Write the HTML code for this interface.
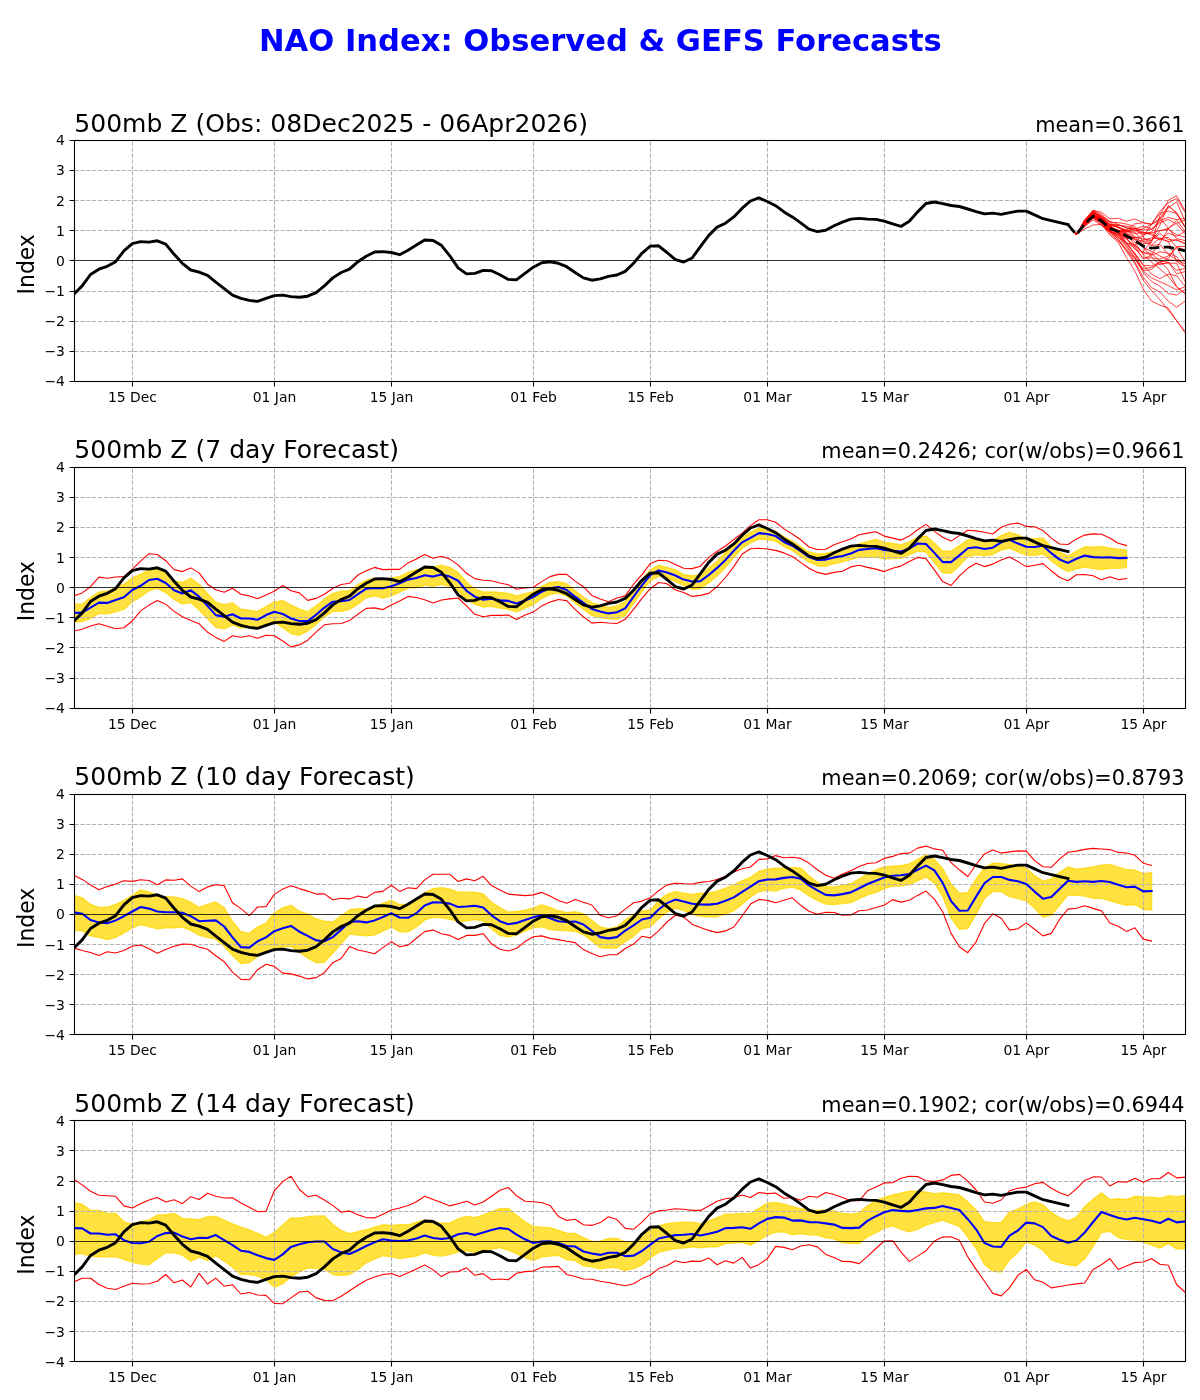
<!DOCTYPE html>
<html lang="en"><head><meta charset="utf-8"><title>NAO Index: Observed &amp; GEFS Forecasts</title>
<style>
html,body{margin:0;padding:0;background:#fff}
svg{display:block;font-family:"DejaVu Sans", "Liberation Sans", sans-serif;fill:#000}
</style></head><body>
<svg width="1200" height="1400" viewBox="0 0 1200 1400">
<rect width="1200" height="1400" fill="#fff"/>
<text x="600.4" y="50.8" font-size="30.6" font-weight="bold" text-anchor="middle" fill="#0000ff">NAO Index: Observed &amp; GEFS Forecasts</text>
<clipPath id="c0"><rect x="74.5" y="140.5" width="1111.0" height="241.0"/></clipPath>
<g clip-path="url(#c0)"><path d="M132.5 381.5V140.5M274.5 381.5V140.5M391.5 381.5V140.5M533.5 381.5V140.5M650.5 381.5V140.5M767.5 381.5V140.5M884.5 381.5V140.5M1026.5 381.5V140.5M1143.5 381.5V140.5M74.5 351.5H1185.5M74.5 321.5H1185.5M74.5 291.5H1185.5M74.5 230.5H1185.5M74.5 200.5H1185.5M74.5 170.5H1185.5" stroke="#b0b0b0" stroke-width="1.1" stroke-dasharray="4.111 1.778" fill="none"/>
<path d="M1068.0 224.6 L1076.4 234.6 L1084.7 226.5 L1093.1 220.0 L1101.5 225.4 L1109.8 232.1 L1118.2 233.1 L1126.5 236.2 L1134.9 238.5 L1143.2 247.0 L1151.6 257.2 L1159.9 264.8 L1168.3 262.2 L1176.6 273.8 L1185.0 271.6M1068.0 224.6 L1076.4 234.6 L1084.7 224.8 L1093.1 217.4 L1101.5 222.8 L1109.8 231.6 L1118.2 234.5 L1126.5 242.8 L1134.9 248.2 L1143.2 258.2 L1151.6 257.8 L1159.9 259.2 L1168.3 256.0 L1176.6 247.6 L1185.0 261.3M1068.0 224.6 L1076.4 234.6 L1084.7 221.2 L1093.1 212.9 L1101.5 217.0 L1109.8 224.8 L1118.2 224.6 L1126.5 228.3 L1134.9 228.8 L1143.2 233.7 L1151.6 233.5 L1159.9 238.6 L1168.3 237.4 L1176.6 247.4 L1185.0 249.6M1068.0 224.6 L1076.4 234.6 L1084.7 223.4 L1093.1 214.5 L1101.5 218.4 L1109.8 224.8 L1118.2 225.5 L1126.5 226.2 L1134.9 228.3 L1143.2 232.4 L1151.6 232.8 L1159.9 230.6 L1168.3 229.5 L1176.6 234.7 L1185.0 237.4M1068.0 224.6 L1076.4 234.6 L1084.7 223.4 L1093.1 213.9 L1101.5 218.8 L1109.8 225.3 L1118.2 227.1 L1126.5 231.5 L1134.9 228.4 L1143.2 229.9 L1151.6 229.3 L1159.9 220.9 L1168.3 217.4 L1176.6 219.6 L1185.0 218.3M1068.0 224.6 L1076.4 234.6 L1084.7 224.7 L1093.1 217.1 L1101.5 222.0 L1109.8 229.3 L1118.2 230.4 L1126.5 230.2 L1134.9 228.9 L1143.2 226.2 L1151.6 228.9 L1159.9 222.8 L1168.3 219.5 L1176.6 223.9 L1185.0 233.8M1068.0 224.6 L1076.4 234.6 L1084.7 223.1 L1093.1 215.0 L1101.5 219.7 L1109.8 226.5 L1118.2 230.6 L1126.5 232.5 L1134.9 237.7 L1143.2 236.5 L1151.6 224.2 L1159.9 211.3 L1168.3 202.8 L1176.6 198.5 L1185.0 212.2M1068.0 224.6 L1076.4 234.6 L1084.7 224.3 L1093.1 216.6 L1101.5 220.6 L1109.8 227.5 L1118.2 230.6 L1126.5 238.3 L1134.9 246.9 L1143.2 259.0 L1151.6 255.2 L1159.9 251.8 L1168.3 253.2 L1176.6 256.7 L1185.0 267.0M1068.0 224.6 L1076.4 234.6 L1084.7 221.9 L1093.1 211.7 L1101.5 216.8 L1109.8 224.9 L1118.2 232.7 L1126.5 238.2 L1134.9 249.5 L1143.2 252.0 L1151.6 240.4 L1159.9 225.1 L1168.3 205.4 L1176.6 213.6 L1185.0 226.4M1068.0 224.6 L1076.4 234.6 L1084.7 225.2 L1093.1 216.9 L1101.5 222.3 L1109.8 231.2 L1118.2 239.0 L1126.5 249.4 L1134.9 259.4 L1143.2 270.5 L1151.6 269.6 L1159.9 260.7 L1168.3 270.1 L1176.6 286.5 L1185.0 293.7M1068.0 224.6 L1076.4 234.6 L1084.7 220.0 L1093.1 211.8 L1101.5 218.3 L1109.8 227.2 L1118.2 233.1 L1126.5 242.7 L1134.9 254.2 L1143.2 265.2 L1151.6 265.9 L1159.9 262.4 L1168.3 258.4 L1176.6 246.6 L1185.0 246.5M1068.0 224.6 L1076.4 234.6 L1084.7 223.6 L1093.1 216.6 L1101.5 221.4 L1109.8 228.7 L1118.2 232.5 L1126.5 231.1 L1134.9 231.0 L1143.2 228.6 L1151.6 224.2 L1159.9 213.4 L1168.3 211.1 L1176.6 213.5 L1185.0 226.6M1068.0 224.6 L1076.4 234.6 L1084.7 221.8 L1093.1 213.2 L1101.5 219.2 L1109.8 227.1 L1118.2 230.8 L1126.5 234.1 L1134.9 242.0 L1143.2 254.7 L1151.6 262.2 L1159.9 269.0 L1168.3 276.3 L1176.6 287.0 L1185.0 293.7M1068.0 224.6 L1076.4 234.6 L1084.7 222.7 L1093.1 214.2 L1101.5 219.8 L1109.8 227.8 L1118.2 232.8 L1126.5 242.6 L1134.9 254.9 L1143.2 270.9 L1151.6 278.0 L1159.9 281.7 L1168.3 285.5 L1176.6 289.9 L1185.0 286.8M1068.0 224.6 L1076.4 234.6 L1084.7 223.2 L1093.1 215.6 L1101.5 222.4 L1109.8 232.0 L1118.2 237.4 L1126.5 242.7 L1134.9 245.1 L1143.2 240.0 L1151.6 237.9 L1159.9 239.0 L1168.3 241.4 L1176.6 261.5 L1185.0 266.9M1068.0 224.6 L1076.4 234.6 L1084.7 220.0 L1093.1 210.2 L1101.5 214.2 L1109.8 222.6 L1118.2 226.9 L1126.5 233.9 L1134.9 245.1 L1143.2 252.9 L1151.6 254.5 L1159.9 243.1 L1168.3 228.7 L1176.6 220.2 L1185.0 231.4M1068.0 224.6 L1076.4 234.6 L1084.7 225.3 L1093.1 217.5 L1101.5 222.7 L1109.8 230.5 L1118.2 236.6 L1126.5 246.9 L1134.9 258.3 L1143.2 268.8 L1151.6 267.4 L1159.9 263.7 L1168.3 263.1 L1176.6 263.2 L1185.0 281.2M1068.0 224.6 L1076.4 234.6 L1084.7 221.1 L1093.1 212.2 L1101.5 217.6 L1109.8 225.1 L1118.2 226.9 L1126.5 231.4 L1134.9 232.1 L1143.2 241.4 L1151.6 245.6 L1159.9 244.4 L1168.3 254.6 L1176.6 259.7 L1185.0 261.5M1068.0 224.6 L1076.4 234.6 L1084.7 220.6 L1093.1 211.5 L1101.5 216.3 L1109.8 222.2 L1118.2 222.6 L1126.5 224.1 L1134.9 226.4 L1143.2 236.8 L1151.6 244.9 L1159.9 238.1 L1168.3 241.7 L1176.6 239.8 L1185.0 243.8M1068.0 224.6 L1076.4 234.6 L1084.7 222.7 L1093.1 215.1 L1101.5 220.0 L1109.8 227.2 L1118.2 231.7 L1126.5 235.2 L1134.9 239.6 L1143.2 247.4 L1151.6 251.4 L1159.9 256.0 L1168.3 259.6 L1176.6 260.7 L1185.0 263.8M1068.0 224.6 L1076.4 234.6 L1084.7 223.2 L1093.1 215.0 L1101.5 219.7 L1109.8 227.0 L1118.2 230.3 L1126.5 233.4 L1134.9 239.2 L1143.2 241.3 L1151.6 240.6 L1159.9 230.8 L1168.3 228.3 L1176.6 223.2 L1185.0 220.2M1068.0 224.6 L1076.4 234.6 L1084.7 220.0 L1093.1 210.3 L1101.5 216.9 L1109.8 224.2 L1118.2 227.8 L1126.5 229.9 L1134.9 223.8 L1143.2 222.7 L1151.6 224.2 L1159.9 218.3 L1168.3 228.2 L1176.6 238.7 L1185.0 240.6M1068.0 224.6 L1076.4 234.6 L1084.7 223.7 L1093.1 215.2 L1101.5 220.5 L1109.8 228.9 L1118.2 233.1 L1126.5 238.4 L1134.9 237.3 L1143.2 238.9 L1151.6 240.1 L1159.9 233.6 L1168.3 239.6 L1176.6 240.1 L1185.0 243.3M1068.0 224.6 L1076.4 234.6 L1084.7 223.4 L1093.1 215.3 L1101.5 219.7 L1109.8 226.2 L1118.2 230.8 L1126.5 230.8 L1134.9 233.7 L1143.2 232.2 L1151.6 235.0 L1159.9 240.1 L1168.3 233.2 L1176.6 236.4 L1185.0 231.3M1068.0 224.6 L1076.4 234.6 L1084.7 224.7 L1093.1 217.4 L1101.5 222.9 L1109.8 231.2 L1118.2 234.4 L1126.5 239.3 L1134.9 245.9 L1143.2 252.8 L1151.6 253.2 L1159.9 261.2 L1168.3 262.2 L1176.6 270.3 L1185.0 268.5M1068.0 224.6 L1076.4 234.6 L1084.7 225.9 L1093.1 218.3 L1101.5 224.4 L1109.8 234.9 L1118.2 242.4 L1126.5 257.5 L1134.9 271.0 L1143.2 289.1 L1151.6 301.2 L1159.9 305.1 L1168.3 308.1 L1176.6 320.7 L1185.0 332.8M1068.0 224.6 L1076.4 234.6 L1084.7 224.4 L1093.1 216.8 L1101.5 222.8 L1109.8 231.9 L1118.2 239.4 L1126.5 251.5 L1134.9 263.5 L1143.2 280.1 L1151.6 290.6 L1159.9 299.7 L1168.3 310.2 L1176.6 320.7 L1185.0 331.3M1068.0 224.6 L1076.4 234.6 L1084.7 228.9 L1093.1 225.0 L1101.5 224.4 L1109.8 233.4 L1118.2 240.9 L1126.5 250.0 L1134.9 262.0 L1143.2 277.1 L1151.6 287.6 L1159.9 292.1 L1168.3 301.2 L1176.6 307.2 L1185.0 301.2M1068.0 224.6 L1076.4 234.6 L1084.7 223.8 L1093.1 215.3 L1101.5 221.3 L1109.8 230.4 L1118.2 236.4 L1126.5 245.4 L1134.9 257.5 L1143.2 272.5 L1151.6 281.6 L1159.9 286.1 L1168.3 293.6 L1176.6 295.1 L1185.0 289.1M1068.0 224.6 L1076.4 234.6 L1084.7 225.0 L1093.1 217.7 L1101.5 221.9 L1109.8 229.8 L1118.2 234.9 L1126.5 243.9 L1134.9 253.0 L1143.2 265.0 L1151.6 274.1 L1159.9 278.6 L1168.3 274.1 L1176.6 275.6 L1185.0 286.1M1068.0 224.6 L1076.4 234.6 L1084.7 222.8 L1093.1 212.3 L1101.5 216.8 L1109.8 224.4 L1118.2 227.4 L1126.5 230.4 L1134.9 236.4 L1143.2 243.9 L1151.6 242.4 L1159.9 215.3 L1168.3 200.3 L1176.6 195.7 L1185.0 210.8M1068.0 224.6 L1076.4 234.6 L1084.7 221.9 L1093.1 210.5 L1101.5 212.3 L1109.8 218.9 L1118.2 218.3 L1126.5 221.3 L1134.9 218.9 L1143.2 222.8 L1151.6 224.4 L1159.9 219.8 L1168.3 207.8 L1176.6 201.8 L1185.0 221.3M1068.0 224.6 L1076.4 234.6 L1084.7 221.3 L1093.1 213.8 L1101.5 215.3 L1109.8 221.3 L1118.2 224.4 L1126.5 227.4 L1134.9 230.4 L1143.2 234.9 L1151.6 231.9 L1159.9 218.3 L1168.3 206.3 L1176.6 212.3 L1185.0 227.4" stroke="#ff0000" stroke-width="0.75" fill="none" stroke-linejoin="round"/>
<polyline points="73.8,294.2 82.2,285.9 90.5,274.5 98.9,269.2 107.2,266.3 115.6,261.7 123.9,250.8 132.3,243.6 140.6,241.6 149.0,242.1 157.3,240.8 165.7,244.1 174.1,254.2 182.4,263.3 190.8,270.0 199.1,272.2 207.5,275.4 215.8,282.2 224.2,288.7 232.5,295.1 240.9,298.4 249.3,300.4 257.6,301.4 266.0,298.4 274.3,295.6 282.7,295.1 291.0,296.6 299.4,297.3 307.7,296.2 316.1,292.6 324.4,285.9 332.8,277.9 341.2,272.5 349.5,269.2 357.9,261.7 366.2,256.3 374.6,252.0 382.9,251.6 391.3,252.5 399.6,254.7 408.0,250.3 416.4,245.0 424.7,240.0 433.1,240.5 441.4,245.3 449.8,255.8 458.1,267.9 466.5,273.9 474.8,273.4 483.2,270.4 491.5,270.7 499.9,274.7 508.3,279.4 516.6,279.7 525.0,273.4 533.3,267.2 541.7,262.8 550.0,261.8 558.4,263.3 566.7,266.7 575.1,272.5 583.4,277.9 591.8,280.2 600.2,278.9 608.5,276.4 616.9,275.0 625.2,271.4 633.6,263.3 641.9,253.3 650.3,246.1 658.6,245.8 667.0,252.5 675.4,259.7 683.7,262.0 692.1,258.0 700.4,246.6 708.8,235.4 717.1,227.1 725.5,223.2 733.8,216.9 742.2,208.2 750.5,201.0 758.9,197.9 767.3,201.5 775.6,205.7 784.0,211.9 792.3,216.9 800.7,222.9 809.0,229.1 817.4,231.6 825.7,230.3 834.1,225.8 842.4,222.1 850.8,219.1 859.2,218.4 867.5,219.1 875.9,219.4 884.2,221.1 892.6,223.9 900.9,226.4 909.3,221.2 917.6,211.9 926.0,203.5 934.4,202.0 942.7,203.7 951.1,205.5 959.4,206.5 967.8,209.0 976.1,211.6 984.5,213.9 992.8,213.1 1001.2,214.4 1009.5,212.7 1017.9,211.1 1026.3,211.1 1034.6,214.9 1043.0,218.7 1051.3,220.7 1059.7,222.6 1068.0,224.6" stroke="#000" stroke-width="2.9" fill="none" stroke-linejoin="round" stroke-linecap="square"/>
<polyline points="1068.0,224.6 1076.4,234.6 1084.7,223.9 1093.1,216.2 1101.5,221.0 1109.8,228.4 1118.2,231.5 1126.5,235.9 1134.9,240.5 1143.2,246.2 1151.6,248.1 1159.9,247.3 1168.3,247.1 1176.6,248.8 1185.0,250.8" stroke="#000" stroke-width="2.8" fill="none" stroke-dasharray="10.3 4.4" stroke-linejoin="round"/>
<path d="M74.5 260.5H1185.5" stroke="#000" stroke-width="0.8" fill="none"/></g>
<path d="M132.5 381.5v4.9M274.5 381.5v4.9M391.5 381.5v4.9M533.5 381.5v4.9M650.5 381.5v4.9M767.5 381.5v4.9M884.5 381.5v4.9M1026.5 381.5v4.9M1143.5 381.5v4.9M74.5 381.5h-4.9M74.5 351.5h-4.9M74.5 321.5h-4.9M74.5 291.5h-4.9M74.5 260.5h-4.9M74.5 230.5h-4.9M74.5 200.5h-4.9M74.5 170.5h-4.9M74.5 140.5h-4.9" stroke="#000" stroke-width="1.1" fill="none"/>
<rect x="74.5" y="140.5" width="1111.0" height="241.0" fill="none" stroke="#000" stroke-width="1.1"/>
<text x="132.5" y="401.9" font-size="13.9" text-anchor="middle">15 Dec</text>
<text x="274.5" y="401.9" font-size="13.9" text-anchor="middle">01 Jan</text>
<text x="391.5" y="401.9" font-size="13.9" text-anchor="middle">15 Jan</text>
<text x="533.5" y="401.9" font-size="13.9" text-anchor="middle">01 Feb</text>
<text x="650.5" y="401.9" font-size="13.9" text-anchor="middle">15 Feb</text>
<text x="767.5" y="401.9" font-size="13.9" text-anchor="middle">01 Mar</text>
<text x="884.5" y="401.9" font-size="13.9" text-anchor="middle">15 Mar</text>
<text x="1026.5" y="401.9" font-size="13.9" text-anchor="middle">01 Apr</text>
<text x="1143.5" y="401.9" font-size="13.9" text-anchor="middle">15 Apr</text>
<text x="64.9" y="386.0" font-size="13.9" text-anchor="end">−4</text>
<text x="64.9" y="356.0" font-size="13.9" text-anchor="end">−3</text>
<text x="64.9" y="326.0" font-size="13.9" text-anchor="end">−2</text>
<text x="64.9" y="296.0" font-size="13.9" text-anchor="end">−1</text>
<text x="64.9" y="266.0" font-size="13.9" text-anchor="end">0</text>
<text x="64.9" y="236.0" font-size="13.9" text-anchor="end">1</text>
<text x="64.9" y="206.0" font-size="13.9" text-anchor="end">2</text>
<text x="64.9" y="175.0" font-size="13.9" text-anchor="end">3</text>
<text x="64.9" y="145.0" font-size="13.9" text-anchor="end">4</text>
<text transform="translate(34.2 264.3) rotate(-90) scale(1 1.06)" font-size="21.9" text-anchor="middle">Index</text>
<text x="74.3" y="132.0" font-size="25.05">500mb Z (Obs: 08Dec2025 - 06Apr2026)</text>
<text x="1184.6" y="132.0" font-size="20.83" text-anchor="end">mean=0.3661</text>
<clipPath id="c1"><rect x="74.5" y="467.5" width="1111.0" height="241.0"/></clipPath>
<g clip-path="url(#c1)"><polygon points="73.8,604.2 82.2,604.2 90.5,597.5 98.9,592.0 107.2,591.3 115.6,588.0 123.9,584.2 132.3,578.0 140.6,574.4 149.0,569.9 157.3,569.4 165.7,573.3 174.1,581.3 182.4,582.5 190.8,578.3 199.1,584.2 207.5,593.4 215.8,602.2 224.2,604.6 232.5,602.9 240.9,609.3 249.3,610.1 257.6,611.4 266.0,606.7 274.3,602.1 282.7,600.6 291.0,605.1 299.4,608.9 307.7,611.8 316.1,605.9 324.4,599.2 332.8,593.4 341.2,591.3 349.5,590.8 357.9,584.7 366.2,580.3 374.6,578.3 382.9,579.1 391.3,578.0 399.6,576.6 408.0,572.4 416.4,569.6 424.7,567.4 433.1,566.9 441.4,565.2 449.8,567.4 458.1,572.4 466.5,582.0 474.8,589.2 483.2,592.0 491.5,592.0 499.9,592.5 508.3,593.4 516.6,595.9 525.0,593.7 533.3,591.7 541.7,586.3 550.0,582.5 558.4,581.6 566.7,583.8 575.1,590.8 583.4,597.0 591.8,602.6 600.2,605.4 608.5,607.6 616.9,605.9 625.2,601.7 633.6,590.8 641.9,579.1 650.3,569.9 658.6,565.2 667.0,567.4 675.4,569.9 683.7,574.6 692.1,575.8 700.4,575.0 708.8,567.9 717.1,561.2 725.5,552.4 733.8,544.5 742.2,537.3 750.5,532.3 758.9,528.1 767.3,528.9 775.6,531.4 784.0,536.8 792.3,541.0 800.7,546.5 809.0,552.0 817.4,554.0 825.7,553.5 834.1,551.5 842.4,549.9 850.8,547.7 859.2,544.0 867.5,541.5 875.9,539.5 884.2,542.3 892.6,543.5 900.9,544.8 909.3,541.8 917.6,537.3 926.0,536.1 934.4,543.2 942.7,551.2 951.1,551.2 959.4,545.7 967.8,539.8 976.1,539.5 984.5,541.1 992.8,540.3 1001.2,535.6 1009.5,532.3 1017.9,534.8 1026.3,539.0 1034.6,538.6 1043.0,538.1 1051.3,546.8 1059.7,552.4 1068.0,556.0 1076.4,551.0 1084.7,546.8 1093.1,547.2 1101.5,546.4 1109.8,548.1 1118.2,549.3 1126.5,549.9 1126.5,567.6 1118.2,568.2 1109.8,568.2 1101.5,569.5 1093.1,568.6 1084.7,567.0 1076.4,568.8 1068.0,571.6 1059.7,567.1 1051.3,560.7 1043.0,554.0 1034.6,555.4 1026.3,555.2 1017.9,551.9 1009.5,548.2 1001.2,549.9 992.8,554.5 984.5,555.7 976.1,554.9 967.8,556.5 959.4,565.7 951.1,573.3 942.7,572.8 934.4,562.4 926.0,551.9 917.6,551.2 909.3,554.9 900.9,558.2 892.6,558.6 884.2,559.1 875.9,557.0 867.5,557.4 859.2,557.4 850.8,559.6 842.4,561.9 834.1,563.7 825.7,566.2 817.4,565.7 809.0,562.1 800.7,556.2 792.3,550.4 784.0,546.5 775.6,541.1 767.3,539.8 758.9,539.0 750.5,542.8 742.2,548.2 733.8,557.4 725.5,567.4 717.1,575.8 708.8,582.8 700.4,588.8 692.1,589.2 683.7,585.3 675.4,581.6 667.0,577.5 658.6,576.1 650.3,580.8 641.9,591.7 633.6,603.4 625.2,615.4 616.9,619.3 608.5,618.8 600.2,617.6 591.8,615.4 583.4,609.3 575.1,602.9 566.7,595.9 558.4,592.9 550.0,594.5 541.7,598.4 533.3,604.7 525.0,608.1 516.6,611.8 508.3,609.3 499.9,608.1 491.5,606.4 483.2,607.1 474.8,604.2 466.5,599.7 458.1,590.8 449.8,586.3 441.4,584.2 433.1,586.2 424.7,585.0 416.4,587.5 408.0,588.0 399.6,592.0 391.3,595.9 382.9,598.0 374.6,595.9 366.2,597.5 357.9,604.2 349.5,609.3 341.2,611.4 332.8,611.4 324.4,616.8 316.1,624.3 307.7,631.0 299.4,635.2 291.0,633.5 282.7,627.7 274.3,621.8 266.0,623.5 257.6,628.0 249.3,626.8 240.9,628.0 232.5,625.1 224.2,628.8 215.8,627.3 207.5,618.8 199.1,610.1 190.8,602.6 182.4,603.9 174.1,599.5 165.7,592.5 157.3,588.3 149.0,590.8 140.6,597.0 132.3,601.7 123.9,609.3 115.6,611.8 107.2,613.9 98.9,613.4 90.5,618.5 82.2,621.5 73.8,622.3" fill="#ffd700" fill-opacity="0.75" stroke="#ffd700" stroke-opacity="0.75" stroke-width="1.4" stroke-linejoin="round"/>
<path d="M132.5 708.5V467.5M274.5 708.5V467.5M391.5 708.5V467.5M533.5 708.5V467.5M650.5 708.5V467.5M767.5 708.5V467.5M884.5 708.5V467.5M1026.5 708.5V467.5M1143.5 708.5V467.5M74.5 678.5H1185.5M74.5 647.5H1185.5M74.5 617.5H1185.5M74.5 557.5H1185.5M74.5 527.5H1185.5M74.5 497.5H1185.5" stroke="#b0b0b0" stroke-width="1.1" stroke-dasharray="4.111 1.778" fill="none"/>
<polyline points="73.8,595.9 82.2,592.9 90.5,586.7 98.9,577.1 107.2,578.3 115.6,577.0 123.9,576.6 132.3,569.1 140.6,561.2 149.0,553.7 157.3,554.5 165.7,560.7 174.1,569.6 182.4,571.6 190.8,567.9 199.1,572.9 207.5,584.2 215.8,589.7 224.2,592.2 232.5,588.3 240.9,594.2 249.3,595.9 257.6,598.7 266.0,595.0 274.3,591.3 282.7,585.5 291.0,590.8 299.4,592.9 307.7,600.4 316.1,598.4 324.4,594.2 332.8,588.3 341.2,584.5 349.5,583.3 357.9,575.0 366.2,570.8 374.6,567.4 382.9,569.6 391.3,569.4 399.6,569.4 408.0,562.9 416.4,559.1 424.7,554.4 433.1,558.2 441.4,556.2 449.8,559.1 458.1,564.9 466.5,573.3 474.8,578.6 483.2,580.3 491.5,580.8 499.9,583.0 508.3,584.7 516.6,589.2 525.0,588.0 533.3,587.2 541.7,581.6 550.0,576.6 558.4,574.4 566.7,574.4 575.1,581.1 583.4,586.7 591.8,595.4 600.2,598.9 608.5,601.7 616.9,598.0 625.2,595.9 633.6,584.2 641.9,574.6 650.3,563.6 658.6,560.2 667.0,560.7 675.4,564.6 683.7,568.3 692.1,568.6 700.4,566.2 708.8,557.4 717.1,551.2 725.5,546.0 733.8,539.5 742.2,533.1 750.5,525.6 758.9,519.7 767.3,519.7 775.6,522.2 784.0,528.9 792.3,534.0 800.7,539.8 809.0,547.0 817.4,549.5 825.7,549.3 834.1,544.8 842.4,541.8 850.8,539.0 859.2,534.8 867.5,533.1 875.9,531.8 884.2,536.1 892.6,538.1 900.9,540.1 909.3,536.1 917.6,529.8 926.0,524.4 934.4,531.4 942.7,537.3 951.1,541.1 959.4,535.6 967.8,530.3 976.1,530.9 984.5,532.3 992.8,534.0 1001.2,527.3 1009.5,524.2 1017.9,523.1 1026.3,526.4 1034.6,526.8 1043.0,530.6 1051.3,538.1 1059.7,544.0 1068.0,544.5 1076.4,538.9 1084.7,535.1 1093.1,533.9 1101.5,534.2 1109.8,538.0 1118.2,543.3 1126.5,545.5" stroke="#ff0000" stroke-width="1.1" fill="none" stroke-linejoin="round" stroke-linecap="square"/>
<polyline points="73.8,631.0 82.2,629.3 90.5,626.0 98.9,623.8 107.2,626.3 115.6,628.8 123.9,627.7 132.3,621.0 140.6,610.9 149.0,605.1 157.3,600.6 165.7,604.2 174.1,611.4 182.4,616.8 190.8,620.5 199.1,623.8 207.5,632.2 215.8,637.4 224.2,641.4 232.5,635.7 240.9,637.2 249.3,635.7 257.6,638.2 266.0,635.2 274.3,635.7 282.7,641.0 291.0,646.9 299.4,644.9 307.7,640.2 316.1,632.2 324.4,624.8 332.8,623.8 341.2,623.5 349.5,620.6 357.9,614.3 366.2,608.4 374.6,607.9 382.9,609.6 391.3,605.1 399.6,600.9 408.0,596.4 416.4,597.5 424.7,599.7 433.1,603.1 441.4,600.0 449.8,598.9 458.1,598.0 466.5,605.9 474.8,614.3 483.2,616.8 491.5,615.4 499.9,615.4 508.3,615.1 516.6,619.6 525.0,615.1 533.3,612.1 541.7,605.9 550.0,602.1 558.4,599.5 566.7,600.6 575.1,609.3 583.4,616.8 591.8,623.1 600.2,622.3 608.5,623.0 616.9,623.5 625.2,619.3 633.6,609.3 641.9,598.4 650.3,588.7 658.6,582.5 667.0,583.7 675.4,590.0 683.7,592.5 692.1,596.4 700.4,595.4 708.8,593.4 717.1,586.7 725.5,577.5 733.8,566.6 742.2,554.0 750.5,548.7 758.9,548.2 767.3,549.0 775.6,550.4 784.0,552.9 792.3,556.5 800.7,562.4 809.0,568.3 817.4,572.4 825.7,574.4 834.1,572.4 842.4,571.3 850.8,566.9 859.2,565.2 867.5,567.4 875.9,569.1 884.2,571.6 892.6,568.3 900.9,566.1 909.3,561.6 917.6,557.4 926.0,558.7 934.4,569.9 942.7,581.6 951.1,585.5 959.4,575.8 967.8,568.3 976.1,563.2 984.5,566.6 992.8,564.1 1001.2,559.9 1009.5,556.9 1017.9,561.6 1026.3,566.6 1034.6,565.2 1043.0,563.6 1051.3,570.8 1059.7,577.5 1068.0,580.8 1076.4,574.8 1084.7,574.5 1093.1,575.8 1101.5,579.8 1109.8,576.7 1118.2,579.6 1126.5,578.6" stroke="#ff0000" stroke-width="1.1" fill="none" stroke-linejoin="round" stroke-linecap="square"/>
<polyline points="73.8,612.9 82.2,612.6 90.5,607.6 98.9,602.6 107.2,602.9 115.6,600.0 123.9,597.2 132.3,590.0 140.6,585.8 149.0,580.0 157.3,578.8 165.7,583.0 174.1,590.3 182.4,593.4 190.8,590.3 199.1,596.7 207.5,605.9 215.8,615.1 224.2,616.8 232.5,614.3 240.9,618.5 249.3,618.5 257.6,619.8 266.0,615.1 274.3,611.8 282.7,613.9 291.0,618.5 299.4,621.0 307.7,621.0 316.1,614.8 324.4,607.6 332.8,601.7 341.2,601.2 349.5,600.0 357.9,594.2 366.2,588.7 374.6,588.0 382.9,588.3 391.3,586.3 399.6,583.3 408.0,579.6 416.4,578.0 424.7,575.3 433.1,576.6 441.4,574.6 449.8,576.6 458.1,580.8 466.5,590.8 474.8,596.7 483.2,599.7 491.5,598.7 499.9,600.4 508.3,600.9 516.6,603.4 525.0,600.6 533.3,597.0 541.7,591.7 550.0,588.3 558.4,587.0 566.7,590.0 575.1,596.7 583.4,602.9 591.8,608.9 600.2,611.4 608.5,613.4 616.9,612.3 625.2,608.4 633.6,596.7 641.9,585.3 650.3,575.0 658.6,570.4 667.0,572.4 675.4,575.5 683.7,579.6 692.1,581.6 700.4,581.1 708.8,575.0 717.1,567.9 725.5,559.9 733.8,550.7 742.2,542.3 750.5,537.8 758.9,533.1 767.3,534.0 775.6,536.1 784.0,542.0 792.3,545.7 800.7,551.2 809.0,557.0 817.4,559.9 825.7,559.6 834.1,557.4 842.4,556.0 850.8,553.5 859.2,549.9 867.5,549.0 875.9,548.2 884.2,549.9 892.6,550.7 900.9,551.5 909.3,548.7 917.6,543.5 926.0,544.0 934.4,552.9 942.7,562.1 951.1,562.1 959.4,555.4 967.8,548.2 976.1,547.3 984.5,549.0 992.8,547.7 1001.2,542.3 1009.5,539.8 1017.9,543.5 1026.3,546.8 1034.6,547.0 1043.0,545.7 1051.3,553.2 1059.7,559.6 1068.0,562.9 1076.4,558.8 1084.7,555.6 1093.1,557.1 1101.5,557.5 1109.8,557.3 1118.2,558.1 1126.5,557.9" stroke="#0000ff" stroke-width="2.1" fill="none" stroke-linejoin="round" stroke-linecap="square"/>
<polyline points="73.8,621.2 82.2,612.9 90.5,601.5 98.9,596.2 107.2,593.3 115.6,588.7 123.9,577.8 132.3,570.6 140.6,568.6 149.0,569.1 157.3,567.8 165.7,571.1 174.1,581.2 182.4,590.3 190.8,597.0 199.1,599.2 207.5,602.4 215.8,609.2 224.2,615.7 232.5,622.1 240.9,625.4 249.3,627.4 257.6,628.4 266.0,625.4 274.3,622.6 282.7,622.1 291.0,623.6 299.4,624.3 307.7,623.2 316.1,619.6 324.4,612.9 332.8,604.9 341.2,599.5 349.5,596.2 357.9,588.7 366.2,583.3 374.6,579.0 382.9,578.6 391.3,579.5 399.6,581.7 408.0,577.3 416.4,572.0 424.7,567.0 433.1,567.5 441.4,572.3 449.8,582.8 458.1,594.9 466.5,600.9 474.8,600.4 483.2,597.4 491.5,597.7 499.9,601.7 508.3,606.4 516.6,606.7 525.0,600.4 533.3,594.2 541.7,589.8 550.0,588.8 558.4,590.3 566.7,593.7 575.1,599.5 583.4,604.9 591.8,607.2 600.2,605.9 608.5,603.4 616.9,602.0 625.2,598.4 633.6,590.3 641.9,580.3 650.3,573.1 658.6,572.8 667.0,579.5 675.4,586.7 683.7,589.0 692.1,585.0 700.4,573.6 708.8,562.4 717.1,554.1 725.5,550.2 733.8,543.9 742.2,535.2 750.5,528.0 758.9,524.9 767.3,528.5 775.6,532.7 784.0,538.9 792.3,543.9 800.7,549.9 809.0,556.1 817.4,558.6 825.7,557.3 834.1,552.8 842.4,549.1 850.8,546.1 859.2,545.4 867.5,546.1 875.9,546.4 884.2,548.1 892.6,550.9 900.9,553.4 909.3,548.2 917.6,538.9 926.0,530.5 934.4,529.0 942.7,530.7 951.1,532.5 959.4,533.5 967.8,536.0 976.1,538.6 984.5,540.9 992.8,540.1 1001.2,541.4 1009.5,539.7 1017.9,538.1 1026.3,538.1 1034.6,541.9 1043.0,545.7 1051.3,547.7 1059.7,549.6 1068.0,551.6" stroke="#000" stroke-width="2.9" fill="none" stroke-linejoin="round" stroke-linecap="square"/>
<path d="M74.5 587.5H1185.5" stroke="#000" stroke-width="0.8" fill="none"/></g>
<path d="M132.5 708.5v4.9M274.5 708.5v4.9M391.5 708.5v4.9M533.5 708.5v4.9M650.5 708.5v4.9M767.5 708.5v4.9M884.5 708.5v4.9M1026.5 708.5v4.9M1143.5 708.5v4.9M74.5 708.5h-4.9M74.5 678.5h-4.9M74.5 647.5h-4.9M74.5 617.5h-4.9M74.5 587.5h-4.9M74.5 557.5h-4.9M74.5 527.5h-4.9M74.5 497.5h-4.9M74.5 467.5h-4.9" stroke="#000" stroke-width="1.1" fill="none"/>
<rect x="74.5" y="467.5" width="1111.0" height="241.0" fill="none" stroke="#000" stroke-width="1.1"/>
<text x="132.5" y="728.9" font-size="13.9" text-anchor="middle">15 Dec</text>
<text x="274.5" y="728.9" font-size="13.9" text-anchor="middle">01 Jan</text>
<text x="391.5" y="728.9" font-size="13.9" text-anchor="middle">15 Jan</text>
<text x="533.5" y="728.9" font-size="13.9" text-anchor="middle">01 Feb</text>
<text x="650.5" y="728.9" font-size="13.9" text-anchor="middle">15 Feb</text>
<text x="767.5" y="728.9" font-size="13.9" text-anchor="middle">01 Mar</text>
<text x="884.5" y="728.9" font-size="13.9" text-anchor="middle">15 Mar</text>
<text x="1026.5" y="728.9" font-size="13.9" text-anchor="middle">01 Apr</text>
<text x="1143.5" y="728.9" font-size="13.9" text-anchor="middle">15 Apr</text>
<text x="64.9" y="713.0" font-size="13.9" text-anchor="end">−4</text>
<text x="64.9" y="683.0" font-size="13.9" text-anchor="end">−3</text>
<text x="64.9" y="653.0" font-size="13.9" text-anchor="end">−2</text>
<text x="64.9" y="623.0" font-size="13.9" text-anchor="end">−1</text>
<text x="64.9" y="593.0" font-size="13.9" text-anchor="end">0</text>
<text x="64.9" y="563.0" font-size="13.9" text-anchor="end">1</text>
<text x="64.9" y="532.0" font-size="13.9" text-anchor="end">2</text>
<text x="64.9" y="502.0" font-size="13.9" text-anchor="end">3</text>
<text x="64.9" y="472.0" font-size="13.9" text-anchor="end">4</text>
<text transform="translate(34.2 591.1) rotate(-90) scale(1 1.06)" font-size="21.9" text-anchor="middle">Index</text>
<text x="74.3" y="458.0" font-size="25.05">500mb Z (7 day Forecast)</text>
<text x="1184.6" y="458.0" font-size="20.83" text-anchor="end">mean=0.2426; cor(w/obs)=0.9661</text>
<clipPath id="c2"><rect x="74.5" y="794.5" width="1111.0" height="240.0"/></clipPath>
<g clip-path="url(#c2)"><polygon points="73.8,895.3 82.2,897.8 90.5,904.5 98.9,907.5 107.2,907.3 115.6,904.5 123.9,900.6 132.3,895.3 140.6,889.9 149.0,891.9 157.3,895.3 165.7,896.6 174.1,896.9 182.4,898.6 190.8,902.3 199.1,907.5 207.5,904.5 215.8,902.0 224.2,907.8 232.5,921.5 240.9,931.7 249.3,933.4 257.6,927.0 266.0,923.2 274.3,912.8 282.7,907.8 291.0,905.3 299.4,911.2 307.7,914.2 316.1,919.0 324.4,921.2 332.8,922.0 341.2,915.8 349.5,910.0 357.9,908.6 366.2,909.0 374.6,906.5 382.9,903.3 391.3,900.3 399.6,904.5 408.0,904.1 416.4,899.4 424.7,892.7 433.1,888.6 441.4,887.7 449.8,889.1 458.1,892.2 466.5,892.2 474.8,892.2 483.2,894.1 491.5,902.3 499.9,907.5 508.3,912.0 516.6,911.5 525.0,910.3 533.3,907.8 541.7,905.0 550.0,907.5 558.4,910.8 566.7,912.8 575.1,911.7 583.4,913.7 591.8,920.4 600.2,927.0 608.5,928.7 616.9,927.0 625.2,920.0 633.6,914.8 641.9,911.2 650.3,910.0 658.6,900.6 667.0,894.4 675.4,891.6 683.7,893.2 692.1,894.4 700.4,893.2 708.8,892.9 717.1,891.2 725.5,888.2 733.8,884.9 742.2,880.7 750.5,877.4 758.9,871.5 767.3,869.3 775.6,868.1 784.0,868.1 792.3,867.6 800.7,868.1 809.0,875.7 817.4,882.4 825.7,886.2 834.1,887.1 842.4,885.4 850.8,883.5 859.2,879.0 867.5,874.0 875.9,869.8 884.2,867.0 892.6,866.1 900.9,865.6 909.3,864.0 917.6,859.3 926.0,854.8 934.4,859.4 942.7,868.7 951.1,884.0 959.4,893.2 967.8,892.7 976.1,879.0 984.5,868.1 992.8,863.1 1001.2,863.5 1009.5,864.8 1017.9,865.6 1026.3,868.1 1034.6,875.7 1043.0,881.2 1051.3,879.0 1059.7,872.3 1068.0,867.0 1076.4,869.1 1084.7,868.2 1093.1,866.9 1101.5,865.3 1109.8,864.4 1118.2,867.2 1126.5,869.4 1134.9,870.1 1143.2,873.7 1151.6,872.8 1151.6,909.9 1143.2,909.5 1134.9,904.5 1126.5,905.2 1118.2,903.2 1109.8,900.7 1101.5,898.3 1093.1,898.2 1084.7,896.1 1076.4,895.4 1068.0,894.9 1059.7,905.0 1051.3,915.0 1043.0,917.2 1034.6,908.3 1026.3,900.8 1017.9,898.6 1009.5,896.6 1001.2,891.6 992.8,891.6 984.5,898.3 976.1,914.2 967.8,928.4 959.4,929.2 951.1,918.0 942.7,896.6 934.4,882.9 926.0,877.0 917.6,880.7 909.3,884.5 900.9,886.1 892.6,886.2 884.2,888.7 875.9,892.4 867.5,894.9 859.2,898.6 850.8,902.5 842.4,903.6 834.1,904.5 825.7,904.1 817.4,900.3 809.0,895.8 800.7,889.9 792.3,887.1 784.0,888.2 775.6,891.1 767.3,890.4 758.9,891.6 750.5,896.9 742.2,904.1 733.8,910.8 725.5,913.8 717.1,916.7 708.8,916.7 700.4,916.2 692.1,914.2 683.7,910.5 675.4,908.0 667.0,912.0 658.6,918.7 650.3,926.7 641.9,928.7 633.6,936.3 625.2,941.6 616.9,948.0 608.5,948.3 600.2,947.6 591.8,940.9 583.4,934.6 575.1,931.2 566.7,930.7 558.4,930.4 550.0,929.6 541.7,926.7 533.3,927.9 525.0,931.2 516.6,934.9 508.3,937.1 499.9,935.4 491.5,928.7 483.2,920.7 474.8,919.5 466.5,920.9 458.1,921.5 449.8,919.2 441.4,917.8 433.1,917.3 424.7,919.9 416.4,927.0 408.0,931.7 399.6,931.7 391.3,927.0 382.9,931.2 374.6,934.9 366.2,935.9 357.9,935.1 349.5,934.1 341.2,943.8 332.8,953.0 324.4,962.2 316.1,962.7 307.7,958.0 299.4,952.1 291.0,946.3 282.7,947.1 274.3,948.8 266.0,951.8 257.6,956.3 249.3,962.7 240.9,963.5 232.5,955.5 224.2,946.3 215.8,939.1 207.5,937.6 199.1,935.1 190.8,930.4 182.4,927.0 174.1,927.9 165.7,927.9 157.3,928.7 149.0,926.5 140.6,924.5 132.3,927.9 123.9,932.9 115.6,937.4 107.2,939.6 98.9,937.4 90.5,935.8 82.2,930.7 73.8,930.4" fill="#ffd700" fill-opacity="0.75" stroke="#ffd700" stroke-opacity="0.75" stroke-width="1.4" stroke-linejoin="round"/>
<path d="M132.5 1034.5V794.5M274.5 1034.5V794.5M391.5 1034.5V794.5M533.5 1034.5V794.5M650.5 1034.5V794.5M767.5 1034.5V794.5M884.5 1034.5V794.5M1026.5 1034.5V794.5M1143.5 1034.5V794.5M74.5 1004.5H1185.5M74.5 974.5H1185.5M74.5 944.5H1185.5M74.5 884.5H1185.5M74.5 854.5H1185.5M74.5 824.5H1185.5" stroke="#b0b0b0" stroke-width="1.1" stroke-dasharray="4.111 1.778" fill="none"/>
<polyline points="73.8,875.2 82.2,879.4 90.5,884.9 98.9,889.7 107.2,886.6 115.6,884.0 123.9,880.7 132.3,881.4 140.6,879.7 149.0,880.5 157.3,884.7 165.7,879.9 174.1,880.2 182.4,878.9 190.8,886.1 199.1,891.6 207.5,886.9 215.8,884.7 224.2,885.7 232.5,902.8 240.9,908.6 249.3,915.7 257.6,907.0 266.0,906.6 274.3,894.4 282.7,889.1 291.0,885.7 299.4,888.6 307.7,891.1 316.1,894.1 324.4,893.9 332.8,899.8 341.2,898.3 349.5,898.9 357.9,896.1 366.2,897.8 374.6,892.4 382.9,891.4 391.3,885.2 399.6,891.4 408.0,887.7 416.4,888.6 424.7,879.9 433.1,874.3 441.4,874.3 449.8,874.3 458.1,881.5 466.5,878.9 474.8,880.7 483.2,876.3 491.5,885.6 499.9,889.9 508.3,894.1 516.6,894.9 525.0,895.6 533.3,894.9 541.7,892.4 550.0,896.1 558.4,900.6 566.7,903.3 575.1,899.4 583.4,902.3 591.8,905.0 600.2,915.3 608.5,917.8 616.9,915.8 625.2,909.1 633.6,902.8 641.9,901.1 650.3,897.8 658.6,890.7 667.0,884.9 675.4,883.2 683.7,883.7 692.1,884.0 700.4,882.4 708.8,881.5 717.1,879.5 725.5,876.2 733.8,872.0 742.2,868.7 750.5,867.0 758.9,859.4 767.3,858.9 775.6,855.6 784.0,857.8 792.3,857.3 800.7,858.4 809.0,863.1 817.4,869.8 825.7,875.2 834.1,878.2 842.4,874.0 850.8,870.7 859.2,866.5 867.5,863.5 875.9,862.8 884.2,858.4 892.6,856.4 900.9,853.6 909.3,853.1 917.6,848.1 926.0,846.1 934.4,848.9 942.7,850.2 951.1,862.6 959.4,869.8 967.8,876.5 976.1,864.5 984.5,853.9 992.8,850.1 1001.2,853.1 1009.5,851.9 1017.9,850.9 1026.3,851.1 1034.6,860.6 1043.0,866.8 1051.3,867.3 1059.7,858.9 1068.0,852.3 1076.4,851.1 1084.7,849.4 1093.1,848.4 1101.5,849.0 1109.8,849.6 1118.2,852.4 1126.5,853.0 1134.9,855.3 1143.2,863.2 1151.6,865.3" stroke="#ff0000" stroke-width="1.1" fill="none" stroke-linejoin="round" stroke-linecap="square"/>
<polyline points="73.8,948.0 82.2,950.5 90.5,952.5 98.9,955.5 107.2,951.8 115.6,953.0 123.9,950.5 132.3,946.3 140.6,945.0 149.0,948.8 157.3,953.3 165.7,949.6 174.1,946.3 182.4,944.1 190.8,944.3 199.1,947.1 207.5,949.3 215.8,955.8 224.2,961.7 232.5,972.2 240.9,979.4 249.3,979.8 257.6,969.7 266.0,964.2 274.3,966.4 282.7,973.1 291.0,973.9 299.4,976.1 307.7,978.9 316.1,977.6 324.4,972.7 332.8,962.7 341.2,958.5 349.5,946.6 357.9,950.0 366.2,951.8 374.6,953.8 382.9,947.6 391.3,941.6 399.6,946.8 408.0,945.1 416.4,938.3 424.7,931.6 433.1,930.1 441.4,933.7 449.8,935.4 458.1,939.6 466.5,935.4 474.8,935.4 483.2,933.7 491.5,943.8 499.9,949.3 508.3,951.0 516.6,948.3 525.0,941.6 533.3,936.8 541.7,935.9 550.0,938.4 558.4,939.6 566.7,941.3 575.1,942.6 583.4,949.6 591.8,953.5 600.2,956.8 608.5,954.7 616.9,954.7 625.2,948.5 633.6,944.1 641.9,936.3 650.3,937.9 658.6,930.9 667.0,922.0 675.4,915.3 683.7,917.0 692.1,924.2 700.4,927.6 708.8,930.4 717.1,932.6 725.5,930.9 733.8,927.0 742.2,915.8 750.5,904.1 758.9,899.4 767.3,900.4 775.6,902.8 784.0,900.3 792.3,897.8 800.7,905.3 809.0,911.2 817.4,914.2 825.7,912.2 834.1,912.5 842.4,915.3 850.8,915.0 859.2,910.8 867.5,910.0 875.9,907.5 884.2,905.3 892.6,899.6 900.9,902.1 909.3,900.3 917.6,895.4 926.0,891.1 934.4,899.1 942.7,911.7 951.1,933.4 959.4,946.8 967.8,952.7 976.1,941.8 984.5,923.4 992.8,913.8 1001.2,918.3 1009.5,930.1 1017.9,928.7 1026.3,922.9 1034.6,929.2 1043.0,935.9 1051.3,933.4 1059.7,919.2 1068.0,909.1 1076.4,908.2 1084.7,905.8 1093.1,908.4 1101.5,910.9 1109.8,923.0 1118.2,926.2 1126.5,931.4 1134.9,927.8 1143.2,939.1 1151.6,941.0" stroke="#ff0000" stroke-width="1.1" fill="none" stroke-linejoin="round" stroke-linecap="square"/>
<polyline points="73.8,912.3 82.2,913.7 90.5,920.0 98.9,922.4 107.2,923.2 115.6,920.4 123.9,916.2 132.3,911.5 140.6,907.0 149.0,908.6 157.3,911.5 165.7,912.3 174.1,912.3 182.4,912.8 190.8,916.2 199.1,921.2 207.5,920.7 215.8,920.4 224.2,926.5 232.5,937.4 240.9,947.1 249.3,947.6 257.6,941.3 266.0,937.4 274.3,931.2 282.7,928.2 291.0,925.9 299.4,931.7 307.7,935.9 316.1,940.4 324.4,941.3 332.8,937.1 341.2,929.6 349.5,922.0 357.9,921.2 366.2,922.4 374.6,920.4 382.9,917.0 391.3,913.2 399.6,917.5 408.0,917.8 416.4,913.2 424.7,905.6 433.1,902.3 441.4,902.5 449.8,903.6 458.1,907.0 466.5,906.5 474.8,905.8 483.2,907.5 491.5,915.3 499.9,921.2 508.3,924.2 516.6,922.9 525.0,919.9 533.3,917.3 541.7,915.3 550.0,918.3 558.4,921.2 566.7,922.0 575.1,921.5 583.4,924.5 591.8,930.9 600.2,937.1 608.5,938.4 616.9,937.1 625.2,930.7 633.6,925.4 641.9,919.5 650.3,917.8 658.6,909.5 667.0,903.1 675.4,899.6 683.7,901.6 692.1,903.8 700.4,904.5 708.8,904.6 717.1,903.8 725.5,900.8 733.8,897.4 742.2,891.9 750.5,886.6 758.9,881.2 767.3,879.5 775.6,879.4 784.0,877.9 792.3,877.0 800.7,878.7 809.0,885.4 817.4,890.4 825.7,894.9 834.1,895.4 842.4,894.1 850.8,892.4 859.2,888.2 867.5,884.0 875.9,880.7 884.2,877.4 892.6,875.7 900.9,875.3 909.3,874.0 917.6,869.8 926.0,865.6 934.4,870.3 942.7,882.9 951.1,901.1 959.4,910.8 967.8,910.5 976.1,896.6 984.5,883.2 992.8,877.0 1001.2,877.0 1009.5,879.9 1017.9,881.2 1026.3,884.0 1034.6,891.6 1043.0,898.8 1051.3,896.9 1059.7,888.7 1068.0,880.7 1076.4,881.9 1084.7,881.2 1093.1,881.9 1101.5,881.0 1109.8,882.0 1118.2,884.8 1126.5,887.3 1134.9,886.6 1143.2,891.4 1151.6,891.0" stroke="#0000ff" stroke-width="2.1" fill="none" stroke-linejoin="round" stroke-linecap="square"/>
<polyline points="73.8,948.2 82.2,939.9 90.5,928.5 98.9,923.2 107.2,920.3 115.6,915.7 123.9,904.8 132.3,897.6 140.6,895.6 149.0,896.1 157.3,894.8 165.7,898.1 174.1,908.2 182.4,917.3 190.8,924.0 199.1,926.2 207.5,929.4 215.8,936.2 224.2,942.7 232.5,949.1 240.9,952.4 249.3,954.4 257.6,955.4 266.0,952.4 274.3,949.6 282.7,949.1 291.0,950.6 299.4,951.3 307.7,950.2 316.1,946.6 324.4,939.9 332.8,931.9 341.2,926.5 349.5,923.2 357.9,915.7 366.2,910.3 374.6,906.0 382.9,905.6 391.3,906.5 399.6,908.7 408.0,904.3 416.4,899.0 424.7,894.0 433.1,894.5 441.4,899.3 449.8,909.8 458.1,921.9 466.5,927.9 474.8,927.4 483.2,924.4 491.5,924.7 499.9,928.7 508.3,933.4 516.6,933.7 525.0,927.4 533.3,921.2 541.7,916.8 550.0,915.8 558.4,917.3 566.7,920.7 575.1,926.5 583.4,931.9 591.8,934.2 600.2,932.9 608.5,930.4 616.9,929.0 625.2,925.4 633.6,917.3 641.9,907.3 650.3,900.1 658.6,899.8 667.0,906.5 675.4,913.7 683.7,916.0 692.1,912.0 700.4,900.6 708.8,889.4 717.1,881.1 725.5,877.2 733.8,870.9 742.2,862.2 750.5,855.0 758.9,851.9 767.3,855.5 775.6,859.7 784.0,865.9 792.3,870.9 800.7,876.9 809.0,883.1 817.4,885.6 825.7,884.3 834.1,879.8 842.4,876.1 850.8,873.1 859.2,872.4 867.5,873.1 875.9,873.4 884.2,875.1 892.6,877.9 900.9,880.4 909.3,875.2 917.6,865.9 926.0,857.5 934.4,856.0 942.7,857.7 951.1,859.5 959.4,860.5 967.8,863.0 976.1,865.6 984.5,867.9 992.8,867.1 1001.2,868.4 1009.5,866.7 1017.9,865.1 1026.3,865.1 1034.6,868.9 1043.0,872.7 1051.3,874.7 1059.7,876.6 1068.0,878.6" stroke="#000" stroke-width="2.9" fill="none" stroke-linejoin="round" stroke-linecap="square"/>
<path d="M74.5 914.5H1185.5" stroke="#000" stroke-width="0.8" fill="none"/></g>
<path d="M132.5 1034.5v4.9M274.5 1034.5v4.9M391.5 1034.5v4.9M533.5 1034.5v4.9M650.5 1034.5v4.9M767.5 1034.5v4.9M884.5 1034.5v4.9M1026.5 1034.5v4.9M1143.5 1034.5v4.9M74.5 1034.5h-4.9M74.5 1004.5h-4.9M74.5 974.5h-4.9M74.5 944.5h-4.9M74.5 914.5h-4.9M74.5 884.5h-4.9M74.5 854.5h-4.9M74.5 824.5h-4.9M74.5 794.5h-4.9" stroke="#000" stroke-width="1.1" fill="none"/>
<rect x="74.5" y="794.5" width="1111.0" height="240.0" fill="none" stroke="#000" stroke-width="1.1"/>
<text x="132.5" y="1054.9" font-size="13.9" text-anchor="middle">15 Dec</text>
<text x="274.5" y="1054.9" font-size="13.9" text-anchor="middle">01 Jan</text>
<text x="391.5" y="1054.9" font-size="13.9" text-anchor="middle">15 Jan</text>
<text x="533.5" y="1054.9" font-size="13.9" text-anchor="middle">01 Feb</text>
<text x="650.5" y="1054.9" font-size="13.9" text-anchor="middle">15 Feb</text>
<text x="767.5" y="1054.9" font-size="13.9" text-anchor="middle">01 Mar</text>
<text x="884.5" y="1054.9" font-size="13.9" text-anchor="middle">15 Mar</text>
<text x="1026.5" y="1054.9" font-size="13.9" text-anchor="middle">01 Apr</text>
<text x="1143.5" y="1054.9" font-size="13.9" text-anchor="middle">15 Apr</text>
<text x="64.9" y="1040.0" font-size="13.9" text-anchor="end">−4</text>
<text x="64.9" y="1010.0" font-size="13.9" text-anchor="end">−3</text>
<text x="64.9" y="980.0" font-size="13.9" text-anchor="end">−2</text>
<text x="64.9" y="950.0" font-size="13.9" text-anchor="end">−1</text>
<text x="64.9" y="919.0" font-size="13.9" text-anchor="end">0</text>
<text x="64.9" y="889.0" font-size="13.9" text-anchor="end">1</text>
<text x="64.9" y="859.0" font-size="13.9" text-anchor="end">2</text>
<text x="64.9" y="829.0" font-size="13.9" text-anchor="end">3</text>
<text x="64.9" y="799.0" font-size="13.9" text-anchor="end">4</text>
<text transform="translate(34.2 917.9) rotate(-90) scale(1 1.06)" font-size="21.9" text-anchor="middle">Index</text>
<text x="74.3" y="785.0" font-size="25.05">500mb Z (10 day Forecast)</text>
<text x="1184.6" y="785.0" font-size="20.83" text-anchor="end">mean=0.2069; cor(w/obs)=0.8793</text>
<clipPath id="c3"><rect x="74.5" y="1120.5" width="1111.0" height="241.0"/></clipPath>
<g clip-path="url(#c3)"><polygon points="73.8,1203.0 82.2,1204.2 90.5,1210.4 98.9,1210.4 107.2,1213.4 115.6,1213.4 123.9,1221.8 132.3,1224.3 140.6,1221.8 149.0,1220.1 157.3,1215.1 165.7,1214.7 174.1,1213.4 182.4,1218.4 190.8,1218.9 199.1,1219.7 207.5,1216.7 215.8,1216.4 224.2,1220.1 232.5,1223.8 240.9,1227.1 249.3,1229.8 257.6,1233.5 266.0,1237.1 274.3,1232.6 282.7,1225.1 291.0,1217.9 299.4,1218.1 307.7,1216.7 316.1,1215.9 324.4,1215.9 332.8,1224.3 341.2,1230.6 349.5,1233.8 357.9,1231.8 366.2,1229.8 374.6,1227.1 382.9,1224.8 391.3,1225.4 399.6,1224.8 408.0,1224.8 416.4,1222.3 424.7,1220.1 433.1,1221.8 441.4,1223.1 449.8,1222.9 458.1,1218.9 466.5,1216.4 474.8,1217.6 483.2,1215.1 491.5,1211.7 499.9,1208.7 508.3,1208.4 516.6,1215.6 525.0,1221.8 533.3,1226.8 541.7,1227.3 550.0,1227.6 558.4,1230.5 566.7,1233.1 575.1,1233.5 583.4,1237.7 591.8,1241.5 600.2,1241.3 608.5,1238.5 616.9,1238.5 625.2,1242.2 633.6,1242.2 641.9,1238.0 650.3,1229.8 658.6,1225.9 667.0,1223.8 675.4,1222.6 683.7,1222.3 692.1,1222.3 700.4,1223.8 708.8,1220.9 717.1,1217.6 725.5,1214.2 733.8,1213.9 742.2,1213.4 750.5,1213.4 758.9,1208.4 767.3,1203.3 775.6,1202.5 784.0,1204.2 792.3,1206.7 800.7,1208.7 809.0,1210.0 817.4,1210.5 825.7,1210.0 834.1,1210.9 842.4,1213.4 850.8,1214.2 859.2,1212.9 867.5,1205.9 875.9,1200.8 884.2,1197.5 892.6,1195.0 900.9,1193.3 909.3,1191.3 917.6,1191.3 926.0,1192.1 934.4,1193.8 942.7,1193.0 951.1,1193.6 959.4,1195.0 967.8,1202.0 976.1,1210.0 984.5,1221.8 992.8,1222.6 1001.2,1222.6 1009.5,1212.2 1017.9,1209.2 1026.3,1204.5 1034.6,1202.0 1043.0,1204.7 1051.3,1212.6 1059.7,1217.6 1068.0,1220.9 1076.4,1217.2 1084.7,1206.7 1093.1,1199.2 1101.5,1192.9 1109.8,1199.6 1118.2,1198.8 1126.5,1199.6 1134.9,1196.3 1143.2,1196.9 1151.6,1197.1 1159.9,1198.3 1168.3,1195.8 1176.6,1196.7 1185.0,1195.4 1185.0,1248.8 1176.6,1248.8 1168.3,1243.4 1159.9,1248.2 1151.6,1245.0 1143.2,1242.1 1134.9,1240.0 1126.5,1239.6 1118.2,1237.5 1109.8,1231.2 1101.5,1232.5 1093.1,1246.3 1084.7,1258.8 1076.4,1265.7 1068.0,1264.9 1059.7,1262.8 1051.3,1259.9 1043.0,1250.2 1034.6,1245.2 1026.3,1241.8 1017.9,1252.4 1009.5,1259.7 1001.2,1272.0 992.8,1271.1 984.5,1264.4 976.1,1248.5 967.8,1236.8 959.4,1226.4 951.1,1223.4 942.7,1220.1 934.4,1222.6 926.0,1225.1 917.6,1229.3 909.3,1231.8 900.9,1229.3 892.6,1225.9 884.2,1228.1 875.9,1232.6 867.5,1236.8 859.2,1243.5 850.8,1243.2 842.4,1242.7 834.1,1238.8 825.7,1237.7 817.4,1235.1 809.0,1234.8 800.7,1233.5 792.3,1234.8 784.0,1231.8 775.6,1232.3 767.3,1235.1 758.9,1240.5 750.5,1245.2 742.2,1242.3 733.8,1243.0 725.5,1243.5 717.1,1246.9 708.8,1246.9 700.4,1247.7 692.1,1246.9 683.7,1248.0 675.4,1248.5 667.0,1250.2 658.6,1252.4 650.3,1257.7 641.9,1264.9 633.6,1268.6 625.2,1270.6 616.9,1267.8 608.5,1267.4 600.2,1268.9 591.8,1266.9 583.4,1265.8 575.1,1260.6 566.7,1259.7 558.4,1255.2 550.0,1256.1 541.7,1256.9 533.3,1260.6 525.0,1257.7 516.6,1253.5 508.3,1250.2 499.9,1247.7 491.5,1248.9 483.2,1250.2 474.8,1252.4 466.5,1250.7 458.1,1251.9 449.8,1254.4 441.4,1256.1 433.1,1255.2 424.7,1252.7 416.4,1256.1 408.0,1257.2 399.6,1258.6 391.3,1256.6 382.9,1255.7 374.6,1258.9 366.2,1262.8 357.9,1269.4 349.5,1274.5 341.2,1275.6 332.8,1274.5 324.4,1268.9 316.1,1268.6 307.7,1267.8 299.4,1272.0 291.0,1276.6 282.7,1283.7 274.3,1287.0 266.0,1279.5 257.6,1276.1 249.3,1274.5 240.9,1274.5 232.5,1266.9 224.2,1261.1 215.8,1255.6 207.5,1260.6 199.1,1257.2 190.8,1261.1 182.4,1255.2 174.1,1252.7 165.7,1252.7 157.3,1258.6 149.0,1264.8 140.6,1264.1 132.3,1262.2 123.9,1259.4 115.6,1256.6 107.2,1256.9 98.9,1256.9 90.5,1256.1 82.2,1253.5 73.8,1254.4" fill="#ffd700" fill-opacity="0.75" stroke="#ffd700" stroke-opacity="0.75" stroke-width="1.4" stroke-linejoin="round"/>
<path d="M132.5 1361.5V1120.5M274.5 1361.5V1120.5M391.5 1361.5V1120.5M533.5 1361.5V1120.5M650.5 1361.5V1120.5M767.5 1361.5V1120.5M884.5 1361.5V1120.5M1026.5 1361.5V1120.5M1143.5 1361.5V1120.5M74.5 1331.5H1185.5M74.5 1301.5H1185.5M74.5 1271.5H1185.5M74.5 1211.5H1185.5M74.5 1181.5H1185.5M74.5 1150.5H1185.5" stroke="#b0b0b0" stroke-width="1.1" stroke-dasharray="4.111 1.778" fill="none"/>
<polyline points="73.8,1179.1 82.2,1184.9 90.5,1191.3 98.9,1195.3 107.2,1195.8 115.6,1196.3 123.9,1205.9 132.3,1208.0 140.6,1203.7 149.0,1200.0 157.3,1197.5 165.7,1202.0 174.1,1199.7 182.4,1203.7 190.8,1196.7 199.1,1199.5 207.5,1193.3 215.8,1196.2 224.2,1198.0 232.5,1197.8 240.9,1203.0 249.3,1207.2 257.6,1211.7 266.0,1211.4 274.3,1190.8 282.7,1181.6 291.0,1176.2 299.4,1189.5 307.7,1196.7 316.1,1195.3 324.4,1200.0 332.8,1205.4 341.2,1212.2 349.5,1210.9 357.9,1214.7 366.2,1217.6 374.6,1217.9 382.9,1214.2 391.3,1210.0 399.6,1208.0 408.0,1205.5 416.4,1201.7 424.7,1196.3 433.1,1199.5 441.4,1202.5 449.8,1205.9 458.1,1203.7 466.5,1201.3 474.8,1205.0 483.2,1202.0 491.5,1196.2 499.9,1190.3 508.3,1187.5 516.6,1195.8 525.0,1201.2 533.3,1201.7 541.7,1202.5 550.0,1205.4 558.4,1216.4 566.7,1220.4 575.1,1219.2 583.4,1224.8 591.8,1225.4 600.2,1222.6 608.5,1216.7 616.9,1219.6 625.2,1228.4 633.6,1229.3 641.9,1222.1 650.3,1213.7 658.6,1210.9 667.0,1210.0 675.4,1208.7 683.7,1209.2 692.1,1210.4 700.4,1210.4 708.8,1205.9 717.1,1201.2 725.5,1198.8 733.8,1197.8 742.2,1195.0 750.5,1197.5 758.9,1192.5 767.3,1193.6 775.6,1193.0 784.0,1198.3 792.3,1197.5 800.7,1200.3 809.0,1196.3 817.4,1197.2 825.7,1192.5 834.1,1194.5 842.4,1197.5 850.8,1200.8 859.2,1200.8 867.5,1190.8 875.9,1186.9 884.2,1182.9 892.6,1182.8 900.9,1178.2 909.3,1176.2 917.6,1176.6 926.0,1180.8 934.4,1181.6 942.7,1179.9 951.1,1175.4 959.4,1174.4 967.8,1181.1 976.1,1190.0 984.5,1202.0 992.8,1203.3 1001.2,1200.0 1009.5,1190.8 1017.9,1188.3 1026.3,1187.1 1034.6,1183.8 1043.0,1182.4 1051.3,1188.3 1059.7,1192.8 1068.0,1195.8 1076.4,1188.9 1084.7,1180.4 1093.1,1176.9 1101.5,1177.0 1109.8,1186.0 1118.2,1181.6 1126.5,1182.3 1134.9,1178.2 1143.2,1182.3 1151.6,1178.8 1159.9,1178.8 1168.3,1172.5 1176.6,1177.9 1185.0,1177.2" stroke="#ff0000" stroke-width="1.1" fill="none" stroke-linejoin="round" stroke-linecap="square"/>
<polyline points="73.8,1282.0 82.2,1278.3 90.5,1278.3 98.9,1284.5 107.2,1288.2 115.6,1289.5 123.9,1286.2 132.3,1283.2 140.6,1284.0 149.0,1283.7 157.3,1281.2 165.7,1274.5 174.1,1282.8 182.4,1280.0 190.8,1287.0 199.1,1273.3 207.5,1284.0 215.8,1278.1 224.2,1286.2 232.5,1284.8 240.9,1294.0 249.3,1292.5 257.6,1295.0 266.0,1295.4 274.3,1303.4 282.7,1303.7 291.0,1297.9 299.4,1292.0 307.7,1291.2 316.1,1297.9 324.4,1300.4 332.8,1300.7 341.2,1296.2 349.5,1290.7 357.9,1285.3 366.2,1280.3 374.6,1277.0 382.9,1274.5 391.3,1273.6 399.6,1276.6 408.0,1272.8 416.4,1268.9 424.7,1264.9 433.1,1269.9 441.4,1276.6 449.8,1272.0 458.1,1271.6 466.5,1267.8 474.8,1275.3 483.2,1273.6 491.5,1279.8 499.9,1279.0 508.3,1279.8 516.6,1273.3 525.0,1271.6 533.3,1271.1 541.7,1267.3 550.0,1266.9 558.4,1266.4 566.7,1274.5 575.1,1276.5 583.4,1279.0 591.8,1279.2 600.2,1281.2 608.5,1282.5 616.9,1284.2 625.2,1285.8 633.6,1283.7 641.9,1278.6 650.3,1275.3 658.6,1268.6 667.0,1265.8 675.4,1260.7 683.7,1262.8 692.1,1261.1 700.4,1261.4 708.8,1258.1 717.1,1264.8 725.5,1260.7 733.8,1263.1 742.2,1257.4 750.5,1268.1 758.9,1264.4 767.3,1258.6 775.6,1246.4 784.0,1247.4 792.3,1249.7 800.7,1246.0 809.0,1244.8 817.4,1246.9 825.7,1254.4 834.1,1257.4 842.4,1261.4 850.8,1261.6 859.2,1263.6 867.5,1256.4 875.9,1248.5 884.2,1241.0 892.6,1240.7 900.9,1251.9 909.3,1261.4 917.6,1256.1 926.0,1250.7 934.4,1241.0 942.7,1237.1 951.1,1236.8 959.4,1240.2 967.8,1256.9 976.1,1269.4 984.5,1281.2 992.8,1293.4 1001.2,1295.9 1009.5,1287.9 1017.9,1275.3 1026.3,1269.4 1034.6,1279.8 1043.0,1282.3 1051.3,1287.9 1059.7,1286.5 1068.0,1285.0 1076.4,1283.9 1084.7,1283.0 1093.1,1269.5 1101.5,1264.8 1109.8,1258.6 1118.2,1269.5 1126.5,1266.1 1134.9,1262.6 1143.2,1262.0 1151.6,1258.8 1159.9,1264.2 1168.3,1265.3 1176.6,1284.5 1185.0,1292.1" stroke="#ff0000" stroke-width="1.1" fill="none" stroke-linejoin="round" stroke-linecap="square"/>
<polyline points="73.8,1228.1 82.2,1228.4 90.5,1233.5 98.9,1233.5 107.2,1234.8 115.6,1234.3 123.9,1240.2 132.3,1243.0 140.6,1243.2 149.0,1241.8 157.3,1236.0 165.7,1233.1 174.1,1232.6 182.4,1236.5 190.8,1239.3 199.1,1237.7 207.5,1238.0 215.8,1235.1 224.2,1240.2 232.5,1245.2 240.9,1250.7 249.3,1251.9 257.6,1255.2 266.0,1258.1 274.3,1259.9 282.7,1254.4 291.0,1246.9 299.4,1244.3 307.7,1242.2 316.1,1241.5 324.4,1241.5 332.8,1249.0 341.2,1252.4 349.5,1254.0 357.9,1250.2 366.2,1246.0 374.6,1242.3 382.9,1239.3 391.3,1240.5 399.6,1241.0 408.0,1240.5 416.4,1238.5 424.7,1235.6 433.1,1238.0 441.4,1239.0 449.8,1238.0 458.1,1234.3 466.5,1233.0 474.8,1235.1 483.2,1232.6 491.5,1230.1 499.9,1228.1 508.3,1229.0 516.6,1234.6 525.0,1239.3 533.3,1243.0 541.7,1241.5 550.0,1241.3 558.4,1243.0 566.7,1246.0 575.1,1246.5 583.4,1251.5 591.8,1253.5 600.2,1254.9 608.5,1252.7 616.9,1252.7 625.2,1256.1 633.6,1255.6 641.9,1251.0 650.3,1244.7 658.6,1238.5 667.0,1236.8 675.4,1235.1 683.7,1234.8 692.1,1234.0 700.4,1235.5 708.8,1233.8 717.1,1231.8 725.5,1228.1 733.8,1227.9 742.2,1227.3 750.5,1228.8 758.9,1223.4 767.3,1218.9 775.6,1217.1 784.0,1217.6 792.3,1220.6 800.7,1220.4 809.0,1222.1 817.4,1222.3 825.7,1223.4 834.1,1224.6 842.4,1227.9 850.8,1228.1 859.2,1227.6 867.5,1220.9 875.9,1216.2 884.2,1212.2 892.6,1210.0 900.9,1210.9 909.3,1211.4 917.6,1210.0 926.0,1208.4 934.4,1207.9 942.7,1205.9 951.1,1208.0 959.4,1210.0 967.8,1219.2 976.1,1229.3 984.5,1243.0 992.8,1246.5 1001.2,1246.9 1009.5,1235.6 1017.9,1230.5 1026.3,1222.6 1034.6,1223.4 1043.0,1227.1 1051.3,1236.0 1059.7,1239.7 1068.0,1242.7 1076.4,1240.6 1084.7,1232.5 1093.1,1222.0 1101.5,1212.0 1109.8,1214.9 1118.2,1217.7 1126.5,1219.5 1134.9,1217.7 1143.2,1219.3 1151.6,1220.8 1159.9,1223.1 1168.3,1218.7 1176.6,1222.4 1185.0,1221.5" stroke="#0000ff" stroke-width="2.1" fill="none" stroke-linejoin="round" stroke-linecap="square"/>
<polyline points="73.8,1275.2 82.2,1266.9 90.5,1255.5 98.9,1250.2 107.2,1247.3 115.6,1242.7 123.9,1231.8 132.3,1224.6 140.6,1222.6 149.0,1223.1 157.3,1221.8 165.7,1225.1 174.1,1235.2 182.4,1244.3 190.8,1251.0 199.1,1253.2 207.5,1256.4 215.8,1263.2 224.2,1269.7 232.5,1276.1 240.9,1279.4 249.3,1281.4 257.6,1282.4 266.0,1279.4 274.3,1276.6 282.7,1276.1 291.0,1277.6 299.4,1278.3 307.7,1277.2 316.1,1273.6 324.4,1266.9 332.8,1258.9 341.2,1253.5 349.5,1250.2 357.9,1242.7 366.2,1237.3 374.6,1233.0 382.9,1232.6 391.3,1233.5 399.6,1235.7 408.0,1231.3 416.4,1226.0 424.7,1221.0 433.1,1221.5 441.4,1226.3 449.8,1236.8 458.1,1248.9 466.5,1254.9 474.8,1254.4 483.2,1251.4 491.5,1251.7 499.9,1255.7 508.3,1260.4 516.6,1260.7 525.0,1254.4 533.3,1248.2 541.7,1243.8 550.0,1242.8 558.4,1244.3 566.7,1247.7 575.1,1253.5 583.4,1258.9 591.8,1261.2 600.2,1259.9 608.5,1257.4 616.9,1256.0 625.2,1252.4 633.6,1244.3 641.9,1234.3 650.3,1227.1 658.6,1226.8 667.0,1233.5 675.4,1240.7 683.7,1243.0 692.1,1239.0 700.4,1227.6 708.8,1216.4 717.1,1208.1 725.5,1204.2 733.8,1197.9 742.2,1189.2 750.5,1182.0 758.9,1178.9 767.3,1182.5 775.6,1186.7 784.0,1192.9 792.3,1197.9 800.7,1203.9 809.0,1210.1 817.4,1212.6 825.7,1211.3 834.1,1206.8 842.4,1203.1 850.8,1200.1 859.2,1199.4 867.5,1200.1 875.9,1200.4 884.2,1202.1 892.6,1204.9 900.9,1207.4 909.3,1202.2 917.6,1192.9 926.0,1184.5 934.4,1183.0 942.7,1184.7 951.1,1186.5 959.4,1187.5 967.8,1190.0 976.1,1192.6 984.5,1194.9 992.8,1194.1 1001.2,1195.4 1009.5,1193.7 1017.9,1192.1 1026.3,1192.1 1034.6,1195.9 1043.0,1199.7 1051.3,1201.7 1059.7,1203.6 1068.0,1205.6" stroke="#000" stroke-width="2.9" fill="none" stroke-linejoin="round" stroke-linecap="square"/>
<path d="M74.5 1241.5H1185.5" stroke="#000" stroke-width="0.8" fill="none"/></g>
<path d="M132.5 1361.5v4.9M274.5 1361.5v4.9M391.5 1361.5v4.9M533.5 1361.5v4.9M650.5 1361.5v4.9M767.5 1361.5v4.9M884.5 1361.5v4.9M1026.5 1361.5v4.9M1143.5 1361.5v4.9M74.5 1361.5h-4.9M74.5 1331.5h-4.9M74.5 1301.5h-4.9M74.5 1271.5h-4.9M74.5 1241.5h-4.9M74.5 1211.5h-4.9M74.5 1181.5h-4.9M74.5 1150.5h-4.9M74.5 1120.5h-4.9" stroke="#000" stroke-width="1.1" fill="none"/>
<rect x="74.5" y="1120.5" width="1111.0" height="241.0" fill="none" stroke="#000" stroke-width="1.1"/>
<text x="132.5" y="1381.9" font-size="13.9" text-anchor="middle">15 Dec</text>
<text x="274.5" y="1381.9" font-size="13.9" text-anchor="middle">01 Jan</text>
<text x="391.5" y="1381.9" font-size="13.9" text-anchor="middle">15 Jan</text>
<text x="533.5" y="1381.9" font-size="13.9" text-anchor="middle">01 Feb</text>
<text x="650.5" y="1381.9" font-size="13.9" text-anchor="middle">15 Feb</text>
<text x="767.5" y="1381.9" font-size="13.9" text-anchor="middle">01 Mar</text>
<text x="884.5" y="1381.9" font-size="13.9" text-anchor="middle">15 Mar</text>
<text x="1026.5" y="1381.9" font-size="13.9" text-anchor="middle">01 Apr</text>
<text x="1143.5" y="1381.9" font-size="13.9" text-anchor="middle">15 Apr</text>
<text x="64.9" y="1367.0" font-size="13.9" text-anchor="end">−4</text>
<text x="64.9" y="1337.0" font-size="13.9" text-anchor="end">−3</text>
<text x="64.9" y="1306.0" font-size="13.9" text-anchor="end">−2</text>
<text x="64.9" y="1276.0" font-size="13.9" text-anchor="end">−1</text>
<text x="64.9" y="1246.0" font-size="13.9" text-anchor="end">0</text>
<text x="64.9" y="1216.0" font-size="13.9" text-anchor="end">1</text>
<text x="64.9" y="1186.0" font-size="13.9" text-anchor="end">2</text>
<text x="64.9" y="1156.0" font-size="13.9" text-anchor="end">3</text>
<text x="64.9" y="1126.0" font-size="13.9" text-anchor="end">4</text>
<text transform="translate(34.2 1244.7) rotate(-90) scale(1 1.06)" font-size="21.9" text-anchor="middle">Index</text>
<text x="74.3" y="1112.0" font-size="25.05">500mb Z (14 day Forecast)</text>
<text x="1184.6" y="1112.0" font-size="20.83" text-anchor="end">mean=0.1902; cor(w/obs)=0.6944</text>
</svg>
</body></html>
